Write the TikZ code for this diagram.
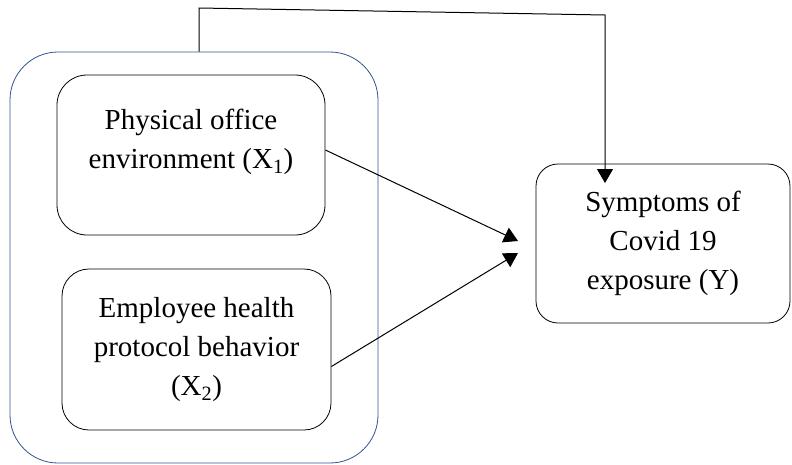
\documentclass[tikz,border=0pt]{standalone}
\usepackage{fontspec}
\setmainfont{Liberation Serif}
\usetikzlibrary{arrows.meta}
\definecolor{frameblue}{RGB}{47,82,143}

\begin{document}
\begin{tikzpicture}[x=1pt, y=-1pt,
    box/.style={draw, line width=0.8pt, inner sep=0pt},
    var/.style={font=\fontsize{29}{39}\selectfont, align=center},
    link/.style={line width=1pt, -{Triangle[length=14pt, width=16pt]}}]
  \useasboundingbox (0,0) rectangle (792,464);
  % the group of the two independent variables
  \node[box, draw=frameblue, rounded corners=48pt, minimum width=368pt,
        minimum height=411pt] (outer) at (194,257.5) {};
  \node[box, rounded corners=30pt, minimum width=268pt, minimum height=160pt]
    (x1) at (191,155) {};
  \node[var] (x1text) at (191,142) {Physical office\\environment (X\textsubscript{1})};
  \node[box, var, rounded corners=27pt, minimum width=269pt, minimum height=161pt]
    (x2) at (196.5,349.5) {Employee health\\protocol behavior\\(X\textsubscript{2})};
  \node[box, var, rounded corners=22pt, minimum width=254pt, minimum height=159pt]
    (y) at (663,243.5) {Symptoms of\\Covid 19\\exposure (Y)};
  % arrow ends
  \coordinate (in1) at (518,241);
  \coordinate (in2) at (518,253);
  \coordinate (top1) at (199,8);
  \coordinate (top2) at (605,15);
  \coordinate (intop) at (605,183);
  \draw[link] ([yshift=5pt]x1.east) -- (in1);
  \draw[link] ([yshift=-17pt]x2.east) -- (in2);
  \draw[link] ([xshift=5pt]outer.north) -- (top1) -- (top2) -- (intop);
\end{tikzpicture}
\end{document}
